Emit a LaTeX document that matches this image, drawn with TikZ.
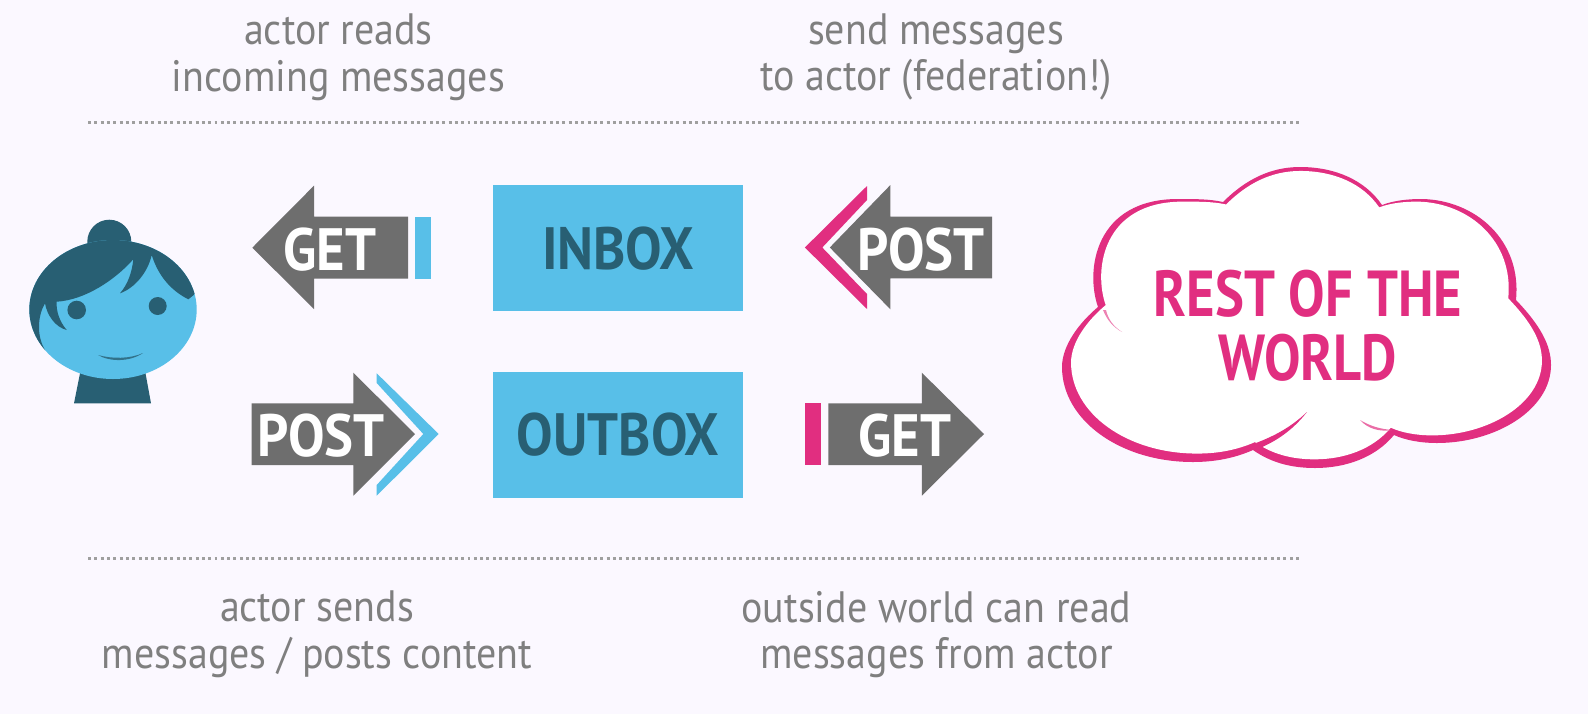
\documentclass[tikz,border=0pt]{standalone}
\usepackage{fontspec}
\usetikzlibrary{positioning}
\setmainfont[FakeStretch=0.84]{PT Sans}
\newfontfamily\notefont[FakeStretch=0.91]{PT Sans}
\newfontfamily\verbfont[FakeStretch=0.915]{PT Sans}
\definecolor{pagebg}{HTML}{FBF8FF}
\definecolor{skyblue}{HTML}{58BFE8}
\definecolor{deepteal}{HTML}{285F73}
\definecolor{arrowgray}{HTML}{6E6E6E}
\definecolor{notegray}{HTML}{7F7F7F}
\definecolor{hotpink}{HTML}{E12E80}
\tikzset{
  notetext/.style={text=notegray,align=center,inner sep=0pt,font=\notefont\fontsize{25}{26.5}\selectfont},
  verbtext/.style={text=white,inner sep=0pt,font=\verbfont\fontsize{34}{34}\selectfont\bfseries},
  boxnode/.style={fill=skyblue,text=deepteal,inner sep=0pt,minimum width=4.984cm,minimum height=2.512cm,font=\verbfont\fontsize{34}{34}\selectfont\bfseries},
  rulerline/.style={notegray!75,line width=1.7pt,dash pattern=on 1.7pt off 1.9pt},
}
\newcommand{\cloudshape}{(1223,202) .. controls (1245,180) and (1270,167) .. (1300,167) .. controls (1335,167) and (1365,180) .. (1382,205)
  .. controls (1395,200) and (1410,199) .. (1422,199) .. controls (1475,200) and (1522,240) .. (1516,300)
  .. controls (1540,325) and (1551,345) .. (1551,365) .. controls (1551,410) and (1495,443) .. (1437,443) .. controls (1420,443) and (1405,440) .. (1394,435)
  .. controls (1375,458) and (1345,468) .. (1315,468) .. controls (1290,468) and (1270,462) .. (1253,450)
  .. controls (1235,458) and (1215,462) .. (1193,462) .. controls (1120,462) and (1062,420) .. (1062,367) .. controls (1062,345) and (1080,322) .. (1098,307)
  .. controls (1085,270) and (1095,199) .. (1178,199) .. controls (1195,199) and (1210,199) .. cycle}
\begin{document}
\begin{tikzpicture}[x=0.02cm,y=-0.02cm]
\fill [pagebg] (0,0) rectangle (1588,714);
\useasboundingbox (0,0) rectangle (1588,714);
% notes and rules
\node [notetext] (readnote) at (338.5,57) {actor reads\\incoming messages};
\node [notetext] (sendnote) at (936,57) {send messages\\to actor (federation!)};
\node [notetext] (postnote) at (317,634.5) {actor sends\\messages / posts content};
\node [notetext] (worldnote) at (936.5,634.5) {outside world can read\\messages from actor};
\coordinate (topruleL) at (88,122.6);
\coordinate (topruleR) at (1302,122.6);
\coordinate (botruleL) at (88,558.5);
\coordinate (botruleR) at (1302,558.5);
\draw [rulerline] (topruleL) -- (topruleR);
\draw [rulerline] (botruleL) -- (botruleR);
% actor
\fill [deepteal] (74,403.3) -- (151,403.3) -- (144,365) -- (81.7,365) -- cycle;
\fill [deepteal] (109.3,241.7) circle (22);
\fill [skyblue] (113,309.5) ellipse (83.7 and 69.5);
\begin{scope}
\clip (113,309.5) ellipse (83.7 and 69.5);
\fill [deepteal] (25,360) -- (45,350) .. controls (36,335) and (38,315) .. (45,303.3) .. controls (47,315) and (55,327) .. (66.7,330)
  .. controls (60,322) and (56,312) .. (56.7,301.7) .. controls (85,300) and (115,280) .. (133.3,259.3)
  .. controls (132,272) and (128,284) .. (120,293.3) .. controls (135,288) and (148,272) .. (151.7,255)
  .. controls (158,275) and (170,290) .. (188.3,299.3) -- (200,290) -- (200,230) -- (25,230) -- cycle;
\end{scope}
\fill [deepteal] (76.7,310) circle (9.3);
\fill [deepteal] (157.7,306) circle (9);
\fill [deepteal!80!skyblue] (98,355) .. controls (112,359) and (130,359) .. (143,353) .. controls (130,362) and (110,362) .. cycle;
% left arrows
\fill [arrowgray] (252.3,247.7) -- (314,185.7) -- (314,216.7) -- (408,216.7) -- (408,278.7) -- (314,278.7) -- (314,309) -- cycle;
\fill [skyblue] (415,216.7) rectangle (431,278.7);
\node [verbtext] (getin) at (330,250) {GET};
\fill [arrowgray] (251.7,403.3) -- (353.3,403.3) -- (353.3,372.7) -- (415,434) -- (353.3,495.7) -- (353.3,465) -- (251.7,465) -- cycle;
\fill [skyblue] (376.7,373.3) -- (438.7,434) -- (376.7,495.7) -- (376.7,485) -- (423.3,434) -- (376.7,383) -- cycle;
\node [verbtext] (postout) at (321,436) {POST};
% boxes
\node [boxnode] (inbox) at (618,248.2) {INBOX};
\node [boxnode,below=1.21cm of inbox] (outbox) {OUTBOX};
% right arrows
\fill [arrowgray] (829.8,247.5) -- (890.4,185) -- (890.4,216.7) -- (992,216.7) -- (992,278.3) -- (890.4,278.3) -- (890.4,309.3) -- cycle;
\fill [hotpink] (867,186) -- (804.9,247.5) -- (867,309) -- (867,294) -- (822.3,247.5) -- (867,200) -- cycle;
\node [verbtext] (postin) at (921,250) {POST};
\fill [arrowgray] (828.3,403.3) -- (921.8,403.3) -- (921.8,372.7) -- (984,434) -- (921.8,495.7) -- (921.8,465) -- (828.3,465) -- cycle;
\fill [hotpink] (805,403.3) rectangle (820.8,465);
\node [verbtext] (getout) at (905,436) {GET};
% cloud
\fill [hotpink] \cloudshape;
\begin{scope}[shift={(1306,316)},xscale=0.963,yscale=0.958,shift={(-1306,-318.4)}]
\fill [white] \cloudshape;
\end{scope}
\fill [hotpink!60] (1103,310) .. controls (1107,320) and (1113,327) .. (1122,332) .. controls (1113,326) and (1108,319) .. (1106,310) -- cycle;
\fill [hotpink] (1256,443) .. controls (1274,436) and (1290,428) .. (1307,412) .. controls (1292,431) and (1276,441) .. (1260,448) -- cycle;
\fill [hotpink!70] (1360,420) .. controls (1370,426) and (1380,429) .. (1392,430) .. controls (1380,432) and (1368,429) .. (1360,420) -- cycle;
\node [text=hotpink,align=center,inner sep=0pt,font=\fontsize{37}{36.5}\selectfont\bfseries] (world) at (1308,325.5) {REST OF THE\\WORLD};
\end{tikzpicture}
\end{document}
